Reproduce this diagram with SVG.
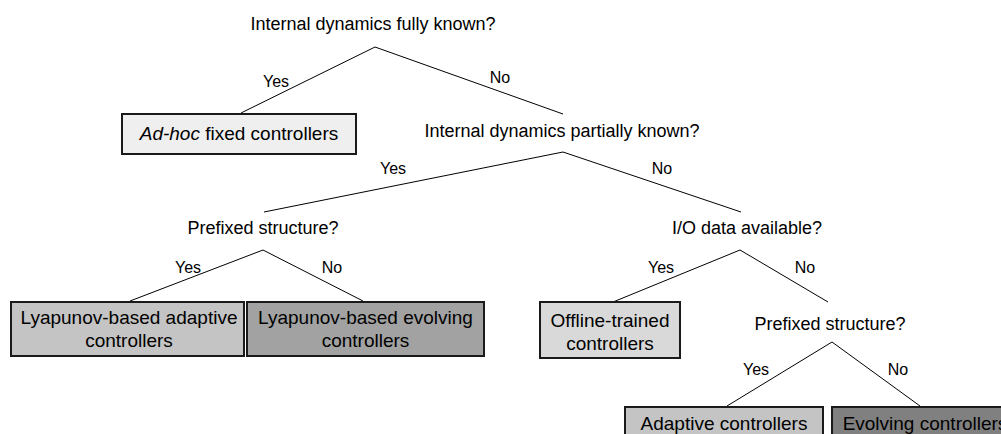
<svg xmlns="http://www.w3.org/2000/svg" width="1001" height="434" viewBox="0 0 1001 434">
<style>
text{font-family:"Liberation Sans",Arial,sans-serif;fill:#000}
.q{font-size:18px;text-anchor:middle}
.lbl{font-size:16px;text-anchor:middle}
.bt{font-size:19px;text-anchor:middle}
.box{stroke:#1a1a1a;stroke-width:2}
.edge{stroke:#000;stroke-width:1;fill:none}
</style>
<rect width="1001" height="434" fill="#fff"/>
<g id="connectors">
<polyline class="edge" points="241,113 375,47 563,114"/>
<polyline class="edge" points="264,212 563,152 741,212"/>
<polyline class="edge" points="130,301 263,250 363,301"/>
<polyline class="edge" points="613,302 740,250 828,302"/>
<polyline class="edge" points="727,406 832,342 920,406"/>
<text class="lbl" x="276" y="87">Yes</text>
<text class="lbl" x="500" y="83">No</text>
<text class="lbl" x="393" y="174">Yes</text>
<text class="lbl" x="662" y="174">No</text>
<text class="lbl" x="188" y="273">Yes</text>
<text class="lbl" x="332" y="273">No</text>
<text class="lbl" x="661" y="273">Yes</text>
<text class="lbl" x="805" y="273">No</text>
<text class="lbl" x="756" y="375">Yes</text>
<text class="lbl" x="898" y="375">No</text>
</g>
<g id="q1"><text class="q" x="373" y="30">Internal dynamics fully known?</text></g>
<g id="q2"><text class="q" x="562" y="137">Internal dynamics partially known?</text></g>
<g id="q3"><text class="q" x="263" y="234">Prefixed structure?</text></g>
<g id="q4"><text class="q" x="747" y="234">I/O data available?</text></g>
<g id="q5"><text class="q" x="830" y="330">Prefixed structure?</text></g>
<g id="adhoc">
<rect class="box" x="122" y="114" width="234" height="40" fill="#efefef"/>
<text class="bt" x="239" y="140"><tspan font-style="italic">Ad-hoc</tspan> fixed controllers</text>
</g>
<g id="lyap-adaptive">
<rect class="box" x="11" y="302" width="233" height="54" fill="#c4c4c4"/>
<text class="bt" x="129" y="324">Lyapunov-based adaptive</text>
<text class="bt" x="129" y="347">controllers</text>
</g>
<g id="lyap-evolving">
<rect class="box" x="247" y="302" width="237" height="54" fill="#a2a2a2"/>
<text class="bt" x="365.5" y="324">Lyapunov-based evolving</text>
<text class="bt" x="365.5" y="347">controllers</text>
</g>
<g id="offline">
<rect class="box" x="540" y="302" width="140" height="56" fill="#d9d9d9"/>
<text class="bt" x="610" y="327">Offline-trained</text>
<text class="bt" x="610" y="350">controllers</text>
</g>
<g id="adaptive">
<rect class="box" x="625" y="407" width="198" height="40" fill="#c4c4c4"/>
<text class="bt" x="724" y="430">Adaptive controllers</text>
</g>
<g id="evolving">
<rect class="box" x="832" y="407" width="186" height="40" fill="#808080"/>
<text class="bt" x="925" y="430">Evolving controllers</text>
</g>
</svg>
